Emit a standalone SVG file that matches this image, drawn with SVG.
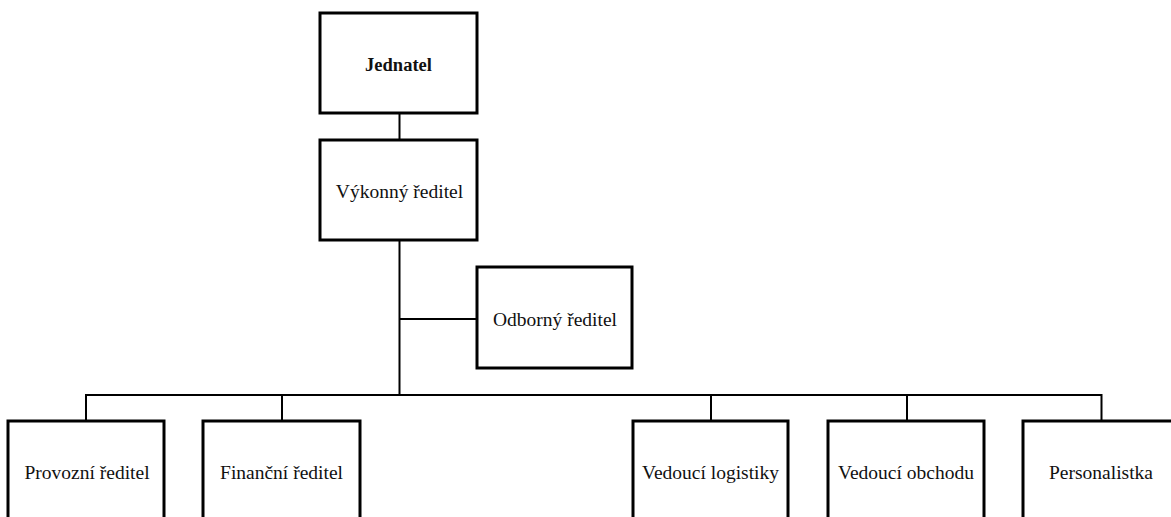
<svg xmlns="http://www.w3.org/2000/svg" width="1171" height="517" viewBox="0 0 1171 517">
<style>
.box{fill:#fff;stroke:#000;stroke-width:3}
.ln{stroke:#000;stroke-width:2;fill:none}
text{font-family:"Liberation Serif","Times New Roman",serif;font-size:19.5px;fill:#111;text-anchor:middle}
.b{font-weight:bold;font-size:18.5px}
</style>
<rect width="1171" height="517" fill="#fff"/>
<g id="connectors">
<line class="ln" x1="399.5" y1="113" x2="399.5" y2="140"/>
<line class="ln" x1="399.5" y1="240" x2="399.5" y2="396"/>
<line class="ln" x1="399.5" y1="319" x2="477" y2="319"/>
<polyline class="ln" points="86,421 86,395 1101.5,395 1101.5,421"/>
<line class="ln" x1="282" y1="395" x2="282" y2="421"/>
<line class="ln" x1="711" y1="395" x2="711" y2="421"/>
<line class="ln" x1="907" y1="395" x2="907" y2="421"/>
</g>
<g id="jednatel"><rect class="box" x="320" y="13" width="157" height="100"/><text class="b" x="398.5" y="71">Jednatel</text></g>
<g id="vykonny"><rect class="box" x="320" y="140" width="157" height="100"/><text x="399.5" y="198">Výkonný ředitel</text></g>
<g id="odborny"><rect class="box" x="477" y="267" width="155" height="101"/><text x="555" y="326">Odborný ředitel</text></g>
<g id="provozni"><rect class="box" x="8" y="421" width="156" height="110"/><text x="87" y="479">Provozní ředitel</text></g>
<g id="financni"><rect class="box" x="203" y="421" width="157" height="110"/><text x="281.5" y="479">Finanční ředitel</text></g>
<g id="logistika"><rect class="box" x="633" y="421" width="155" height="110"/><text x="710.5" y="479">Vedoucí logistiky</text></g>
<g id="obchod"><rect class="box" x="828" y="421" width="156" height="110"/><text x="906" y="479">Vedoucí obchodu</text></g>
<g id="personalistka"><rect class="box" x="1023" y="421" width="156" height="110"/><text x="1101" y="479">Personalistka</text></g>
</svg>
